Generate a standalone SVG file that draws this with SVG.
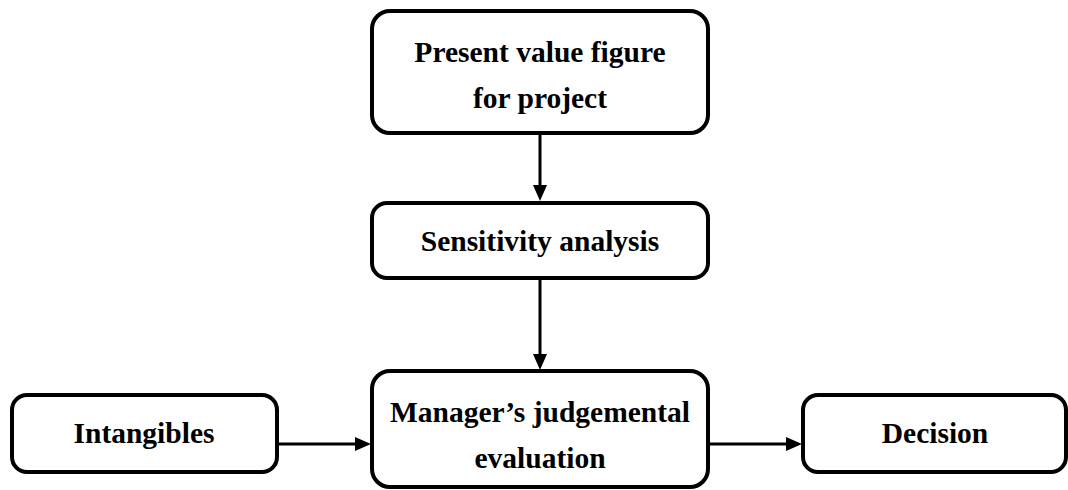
<svg xmlns="http://www.w3.org/2000/svg" width="1068" height="490" viewBox="0 0 1068 490">
<defs>
<style>
.box{fill:#fff;stroke:#000;stroke-width:4}
.t{font-family:"Liberation Serif","Times New Roman",serif;font-weight:bold;font-size:29.5px;fill:#000;text-anchor:middle}
.c{stroke:#000;stroke-width:3;fill:none}
</style>
</defs>
<rect width="1068" height="490" fill="#fff"/>
<g id="connectors">
<line class="c" x1="540" y1="133" x2="540" y2="185"/>
<path d="M533,185 L547,185 L540,201 Z" fill="#000"/>
<line class="c" x1="540" y1="278" x2="540" y2="354"/>
<path d="M533,354 L547,354 L540,370 Z" fill="#000"/>
<line class="c" x1="277" y1="444" x2="355" y2="444"/>
<path d="M355,437 L355,451 L371,444 Z" fill="#000"/>
<line class="c" x1="708" y1="444" x2="786" y2="444"/>
<path d="M786,437 L786,451 L802,444 Z" fill="#000"/>
</g>
<g id="node-present">
<rect class="box" x="372" y="11" width="336" height="122" rx="18"/>
<text class="t" x="540" y="62">Present value figure</text>
<text class="t" x="540" y="108">for project</text>
</g>
<g id="node-sensitivity">
<rect class="box" x="372" y="203" width="336" height="75" rx="15"/>
<text class="t" x="540" y="251">Sensitivity analysis</text>
</g>
<g id="node-manager">
<rect class="box" x="372" y="371" width="336" height="116" rx="18"/>
<text class="t" x="540" y="422">Manager’s judgemental</text>
<text class="t" x="540" y="468">evaluation</text>
</g>
<g id="node-intangibles">
<rect class="box" x="12" y="395" width="265" height="77" rx="15"/>
<text class="t" x="144" y="443">Intangibles</text>
</g>
<g id="node-decision">
<rect class="box" x="803" y="395" width="263" height="77" rx="15"/>
<text class="t" x="935" y="443">Decision</text>
</g>
</svg>
